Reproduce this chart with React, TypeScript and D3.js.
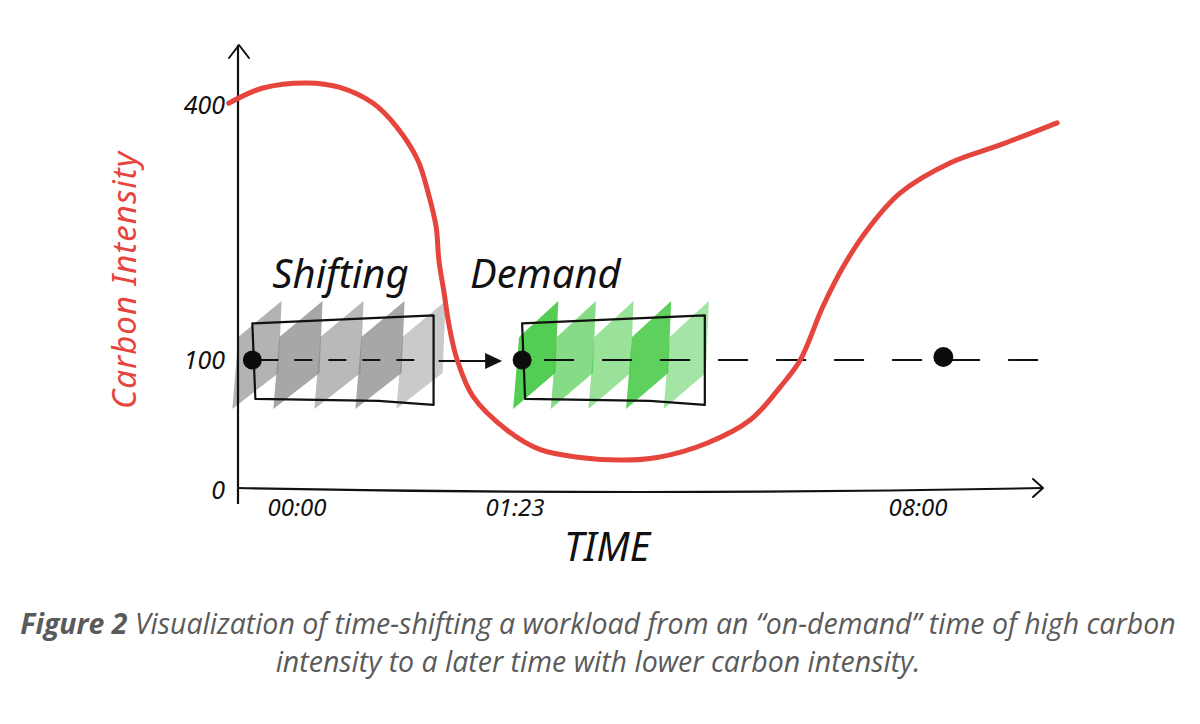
import React from 'react';
import * as d3 from 'd3';

// carbon intensity over the day: minutes after 00:00 and grams CO2/kWh
const curveMinutes = [-26, -13, 4, 16, 29, 38, 46, 50, 53, 54, 56, 58, 61, 67, 80, 108, 147, 189, 223, 272, 315, 344, 364, 386, 406, 430, 462, 512, 561, 617];
const curveIntensity = [402, 420, 426, 421, 402, 374, 335, 296, 256, 218, 179, 139, 100, 72, 46, 31, 25, 23, 25, 36, 54, 79, 100, 162, 209, 253, 296, 332, 353, 379];

// axis ticks
const tickMinutes = [0, 83, 480];
const tickLabels = ['00:00', '01:23', '08:00'];
const intensityTicks = [0, 100, 400];

// workload: the on-demand run and the shifted run
const jobStart = [-17, 90];
const jobEnd = [52, 270];
const jobLevel = 100;
const jobBand = [67, 149];
const nextRunStart = 505;

// brush strokes inside each workload box
const graySliceShades = [0.65, 0.75, 0.6, 0.75, 0.45];
const greenSliceShades = [0.85, 0.6, 0.5, 0.8, 0.45];

const hand = '"Noto Sans", "DejaVu Sans", sans-serif';
const red = '#e5453d';

const App: React.FC = () => {
    const width = 1200;
    const height = 724;
    const axisLeft = 238;
    const axisRight = 1043;
    const axisTop = 45;
    const axisBottom = 490;

    const x = d3.scaleLinear().domain(tickMinutes).range([297, 515, 918]);
    const y = d3.scaleLinear().domain(intensityTicks).range([axisBottom, 360, 105]);

    const curve = d3
        .line<number>()
        .x((_, i) => x(curveMinutes[i]))
        .y((d) => y(d))
        .curve(d3.curveCatmullRom.alpha(0.5));

    const yLevel = y(jobLevel);
    const boxTop = y(jobBand[1]);
    const boxBottom = y(jobBand[0]);

    // sheared strokes that fill a box, spilling a little past its sides
    const slices = (x0: number, x1: number, shades: number[], spillLeft: number, spillRight: number) => {
        const n = shades.length;
        const from = x0 - spillLeft;
        const step = (x1 + spillRight - from) / (n + 0.2);
        const w = step * 1.2;
        const shear = 36;
        const base = boxBottom + 6;
        return shades.map((op, i) => {
            const sx = from + i * step;
            const pts: [number, number][] = [
                [sx, base],
                [sx + 6, base - 72],
                [sx + w, base - 72 - shear],
                [sx + w - 3, base - shear],
            ];
            return { d: 'M' + pts.map((p) => p.join(',')).join('L') + 'Z', op };
        });
    };

    const boxPath = (x0: number, x1: number) =>
        `M${x0},${boxTop + 5} L${x1},${boxTop - 3} L${x1},${boxBottom + 2} L${x1 - 55},${boxBottom - 2} L${x0 + 3},${boxBottom - 4} Z`;

    const gx0 = x(jobStart[0]);
    const gx1 = x(jobEnd[0]);
    const sx0 = x(jobStart[1]);
    const sx1 = x(jobEnd[1]);
    const lineEnd = x(curveMinutes[curveMinutes.length - 1]);

    return (
        <div style={{ position: 'absolute', left: 0, top: 0 }}>
            <svg width={width} height={height} style={{ display: 'block', background: '#fff' }}>
                {/* workload fills */}
                {slices(gx0, gx1, graySliceShades, 20, 12).map((s, i) => (
                    <path key={'g' + i} d={s.d} fill="#8a8a8a" fillOpacity={s.op} />
                ))}
                {slices(sx0, sx1, greenSliceShades, 9, 4).map((s, i) => (
                    <path key={'s' + i} d={s.d} fill="#35c435" fillOpacity={s.op} />
                ))}

                {/* axes */}
                <path d={`M${axisLeft},${axisBottom + 14} L${axisLeft},${axisTop}`} stroke="#111" strokeWidth={2.2} fill="none" />
                <path d={`M${axisLeft - 9},${axisTop + 13} L${axisLeft + 1},${axisTop} L${axisLeft + 11},${axisTop + 13}`} stroke="#111" strokeWidth={2} fill="none" strokeLinecap="round" strokeLinejoin="round" />
                <path d={`M${axisLeft},${axisBottom - 2} Q${(axisLeft + axisRight) / 2},${axisBottom + 6} ${axisRight},${axisBottom - 2}`} stroke="#111" strokeWidth={2.2} fill="none" />
                <path d={`M${axisRight - 10},${axisBottom - 11} L${axisRight},${axisBottom - 2} L${axisRight - 10},${axisBottom + 7}`} stroke="#111" strokeWidth={2} fill="none" strokeLinecap="round" strokeLinejoin="round" />

                {intensityTicks.map((t) => (
                    <text key={t} x={axisLeft - 13} y={y(t) + 9} textAnchor="end" fontFamily={hand} fontStyle="italic" fontSize={25} fill="#111">
                        {t}
                    </text>
                ))}
                {tickMinutes.map((t, i) => (
                    <text key={t} x={x(t)} y={516} textAnchor="middle" fontFamily={hand} fontStyle="italic" fontSize={24} fill="#111">
                        {tickLabels[i]}
                    </text>
                ))}
                <text x={607} y={561} textAnchor="middle" fontFamily={hand} fontStyle="italic" fontSize={40} fill="#111" textLength={86} lengthAdjust="spacingAndGlyphs">
                    TIME
                </text>
                <text transform="translate(136,280) rotate(-90)" textAnchor="middle" fontFamily={hand} fontStyle="italic" fontSize={33} fill={red} letterSpacing={1}>
                    Carbon Intensity
                </text>

                {/* boxes */}
                <path d={boxPath(gx0, gx1)} stroke="#111" strokeWidth={2.2} fill="none" strokeLinejoin="round" />
                <path d={boxPath(sx0, sx1)} stroke="#111" strokeWidth={2.2} fill="none" strokeLinejoin="round" />

                {/* workload timeline */}
                <line x1={gx0} x2={gx1 - 12} y1={yLevel} y2={yLevel} stroke="#111" strokeWidth={2} strokeDasharray="18 16" strokeDashoffset={-8} />
                <line x1={gx1 + 5} x2={sx0 - 35} y1={yLevel + 1} y2={yLevel + 1} stroke="#111" strokeWidth={2} />
                <path d={`M${sx0 - 37},${yLevel - 7} L${sx0 - 20},${yLevel + 1} L${sx0 - 37},${yLevel + 9} Z`} fill="#111" />
                <line x1={sx0} x2={lineEnd} y1={yLevel} y2={yLevel} stroke="#111" strokeWidth={2} strokeDasharray="30 28" strokeDashoffset={-22} />

                {/* carbon intensity */}
                <path d={curve(curveIntensity) ?? ''} stroke={red} strokeWidth={5} fill="none" strokeLinecap="round" />

                {/* run starts */}
                <circle cx={gx0} cy={yLevel} r={9.5} fill="#0c0c0c" />
                <circle cx={sx0} cy={yLevel} r={9.5} fill="#0c0c0c" />
                <circle cx={x(nextRunStart)} cy={yLevel - 3} r={10} fill="#0c0c0c" />

                <text x={gx0 + 20} y={288} fontFamily={hand} fontStyle="italic" fontSize={40} fill="#111">
                    Shifting
                </text>
                <text x={sx0 - 52} y={288} fontFamily={hand} fontStyle="italic" fontSize={40} fill="#111">
                    Demand
                </text>

                {/* caption */}
                <text x={598} y={634} textAnchor="middle" fontFamily='"Open Sans", sans-serif' fontStyle="italic" fontSize={28.5} fill="#5a5a5a">
                    <tspan fontWeight={700}>Figure 2</tspan>
                    {' Visualization of time-shifting a workload from an \u201Con-demand\u201D time of high carbon'}
                </text>
                <text x={598} y={672} textAnchor="middle" fontFamily='"Open Sans", sans-serif' fontStyle="italic" fontSize={28.5} fill="#5a5a5a">
                    intensity to a later time with lower carbon intensity.
                </text>
            </svg>
        </div>
    );
};

export default App;
